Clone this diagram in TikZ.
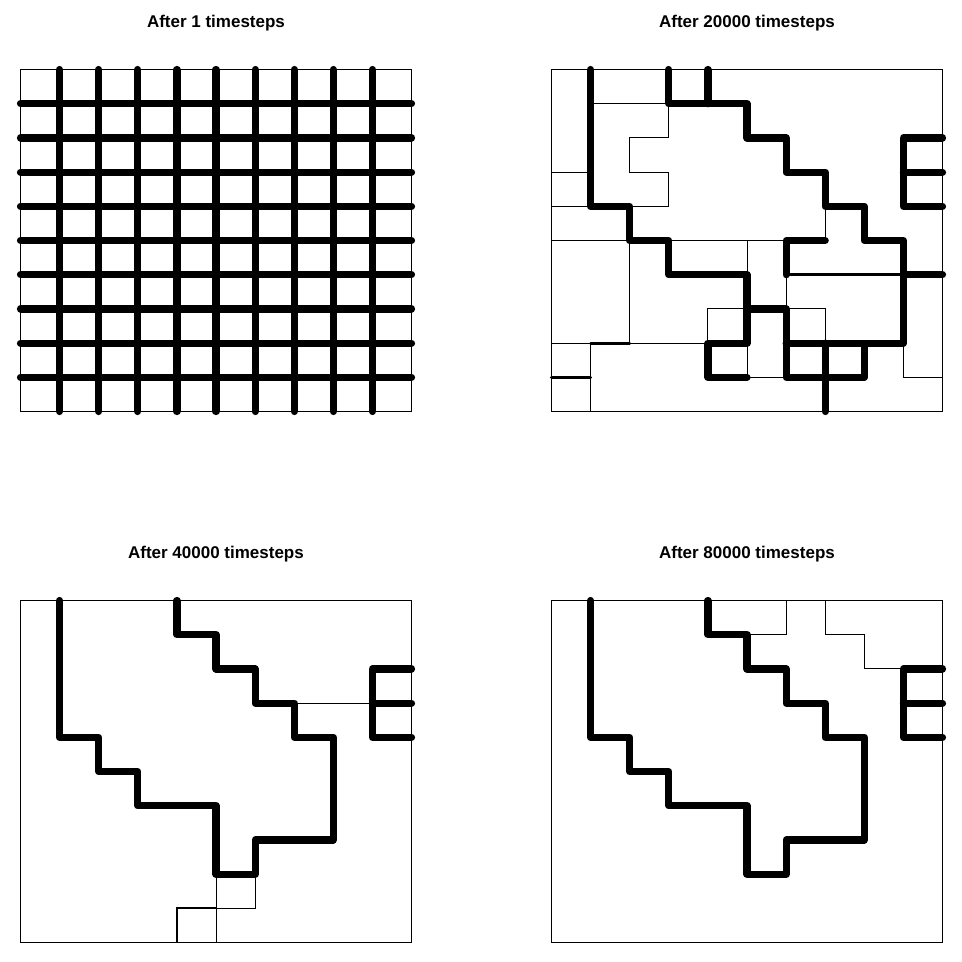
\documentclass[tikz,border=0pt]{standalone}
\usepackage{fontspec}
\setmainfont{Liberation Sans}
\begin{document}
\begin{tikzpicture}[x=1pt,y=-1pt]
\tikzset{
 thk/.style={line width=7.2pt, line cap=round, line join=round},
 med/.style={line width=3.2pt, line cap=round, line join=round},
 thn/.style={line width=0.9pt},
 frame/.style={line width=0.9pt},
 ttl/.style={font=\bfseries\fontsize{17}{20}\selectfont, anchor=base, inner sep=0pt},
 panel/.style={x=39.1pt, y=-34.2pt}
}
\useasboundingbox (0,0) rectangle (962,962);
\fill[white] (0,0) rectangle (962,962);

\node[ttl] (t1) at (216,27.7) {After 1 timesteps};
\node[ttl] (t2) at (747,27.7) {After 20000 timesteps};
\node[ttl] (t3) at (216,558.7) {After 40000 timesteps};
\node[ttl] (t4) at (747,558.7) {After 80000 timesteps};

% Panel 1
\begin{scope}[shift={(20.5pt,-69.5pt)}, panel]
\foreach \k in {1,...,9} {
  \draw[thk] (\k,0) -- (\k,10);
  \draw[thk] (0,\k) -- (10,\k);
}
\draw[frame] (0,0) rectangle (10,10);
\end{scope}

% Panel 2
\begin{scope}[shift={(551.5pt,-69.5pt)}, panel]
\draw[thn] (1,1) -- (3,1) -- (3,2) -- (2,2) -- (2,3) -- (3,3) -- (3,4) -- (2,4);
\draw[thn] (0,3) -- (1,3);
\draw[thn] (0,4) -- (1,4);
\draw[thn] (0,5) -- (2,5);
\draw[thn] (3,5) -- (6,5);
\draw[thn] (2,5) -- (2,8);
\draw[thn] (0,8) -- (1,8);
\draw[thn] (2,8) -- (4,8) -- (4,7) -- (5,7);
\draw[thn] (1,8) -- (1,10);
\draw[thn] (5,5) -- (5,6);
\draw[thn] (5,8) -- (5,9) -- (6,9);
\draw[thn] (6,6) -- (6,7) -- (7,7) -- (7,8);
\draw[thn] (9,8) -- (9,9) -- (10,9);
\draw[thn] (7,4) -- (7,5);
\draw[med] (6,6) -- (9,6);
\draw[med] (1,8) -- (2,8);
\draw[med] (0,9) -- (1,9);
\draw[thk] (1,0) -- (1,4) -- (2,4) -- (2,5) -- (3,5) -- (3,6) -- (5,6) -- (5,8) -- (4,8) -- (4,9) -- (5,9);
\draw[thk] (3,0) -- (3,1) -- (5,1) -- (5,2) -- (6,2) -- (6,3) -- (7,3) -- (7,4) -- (8,4) -- (8,5) -- (9,5) -- (9,8) -- (8,8) -- (8,9) -- (6,9) -- (6,7) -- (5,7);
\draw[thk] (4,0) -- (4,1);
\draw[thk] (6,8) -- (8,8);
\draw[thk] (7,8) -- (7,10);
\draw[thk] (6,6) -- (6,5) -- (7,5);
\draw[thk] (9,6) -- (10,6);
\draw[thk] (10,2) -- (9,2) -- (9,4) -- (10,4);
\draw[thk] (9,3) -- (10,3);
\draw[frame] (0,0) rectangle (10,10);
\end{scope}

% Panel 3
\begin{scope}[shift={(20.5pt,-600.5pt)}, panel]
\draw[thn] (7,3) -- (9,3);
\draw[thn] (5,8) -- (5,10);
\draw[thn] (5,9) -- (6,9) -- (6,8);
\draw[line width=2.2pt] (4,10) -- (4,9) -- (5,9);
\draw[thk] (1,0) -- (1,4) -- (2,4) -- (2,5) -- (3,5) -- (3,6) -- (5,6) -- (5,8) -- (6,8) -- (6,7) -- (8,7) -- (8,4) -- (7,4) -- (7,3) -- (6,3) -- (6,2) -- (5,2) -- (5,1) -- (4,1) -- (4,0);
\draw[thk] (10,2) -- (9,2) -- (9,4) -- (10,4);
\draw[thk] (9,3) -- (10,3);
\draw[frame] (0,0) rectangle (10,10);
\end{scope}

% Panel 4
\begin{scope}[shift={(551.5pt,-600.5pt)}, panel]
\draw[thn] (5,1) -- (6,1) -- (6,0);
\draw[thn] (7,0) -- (7,1) -- (8,1) -- (8,2) -- (9,2);
\draw[thk] (1,0) -- (1,4) -- (2,4) -- (2,5) -- (3,5) -- (3,6) -- (5,6) -- (5,8) -- (6,8) -- (6,7) -- (8,7) -- (8,4) -- (7,4) -- (7,3) -- (6,3) -- (6,2) -- (5,2) -- (5,1) -- (4,1) -- (4,0);
\draw[thk] (10,2) -- (9,2) -- (9,4) -- (10,4);
\draw[thk] (9,3) -- (10,3);
\draw[frame] (0,0) rectangle (10,10);
\end{scope}
\end{tikzpicture}
\end{document}
